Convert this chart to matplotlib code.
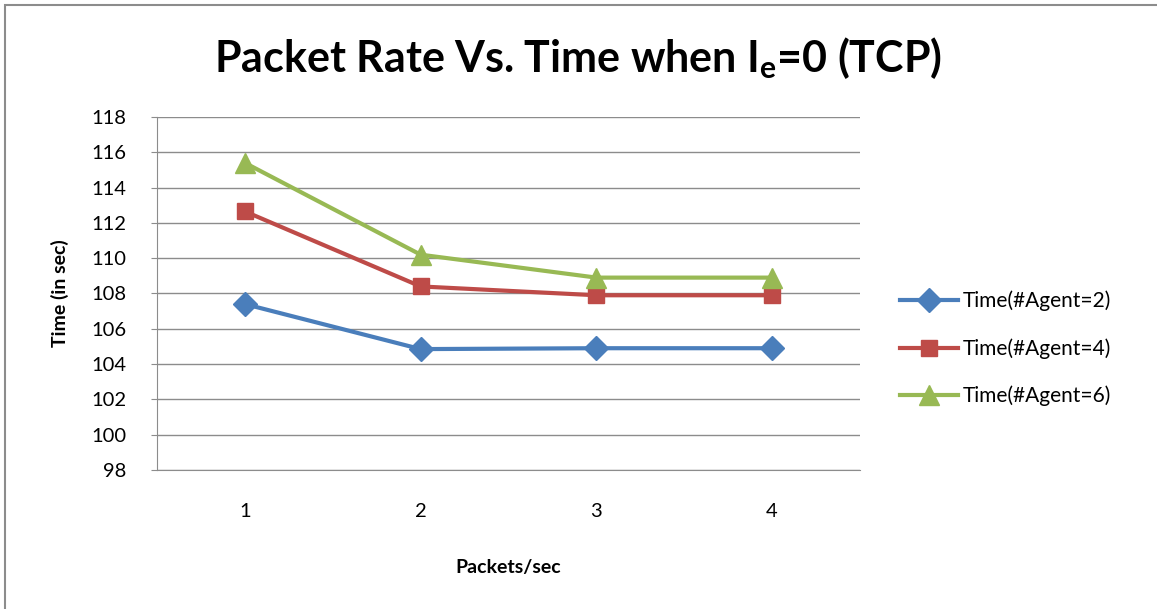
import matplotlib.pyplot as plt
from matplotlib.patches import Rectangle

plt.rcParams['font.family'] = ['Lato', 'DejaVu Sans']
plt.rcParams['mathtext.fontset'] = 'custom'
plt.rcParams['mathtext.rm'] = 'Lato:bold'

packets = [1, 2, 3, 4]
agent2 = [107.4, 104.85, 104.9, 104.9]
agent4 = [112.65, 108.4, 107.9, 107.9]
agent6 = [115.4, 110.2, 108.9, 108.9]
y_ticks = list(range(98, 119, 2))

fig = plt.figure(figsize=(11.57, 6.09), dpi=100)
ax = fig.add_axes([157 / 1157, 1 - 470 / 609, 703 / 1157, 353 / 609])

ax.plot(packets, agent2, color='#4A7EBB', lw=3, marker='D', ms=12, label='Time(#Agent=2)')
ax.plot(packets, agent4, color='#BE4B48', lw=3, marker='s', ms=12, label='Time(#Agent=4)')
ax.plot(packets, agent6, color='#98B954', lw=3, marker='^', ms=14, label='Time(#Agent=6)')

ax.set_xlim(0.5, 4.5)
ax.set_ylim(98, 118)
ax.set_yticks(y_ticks)
ax.set_xticks(packets)
ax.grid(axis='y', color='#8C8C8C', lw=1)
ax.set_axisbelow(True)
for s in ['top', 'right']:
    ax.spines[s].set_visible(False)
for s in ['left', 'bottom']:
    ax.spines[s].set_color('#8C8C8C')
ax.tick_params(axis='y', length=4, color='#8C8C8C', labelsize=14.5, pad=18)
ax.tick_params(axis='x', length=0, labelsize=14.5, pad=24)

ax.set_ylabel('Time (in sec)', fontsize=14, fontweight='bold', labelpad=16)
ax.set_xlabel('Packets/sec', fontsize=14, fontweight='bold', labelpad=28)

fig.text(0.5, 1 - 58 / 609, r'Packet Rate Vs. Time when I$_\mathrm{e}$=0 (TCP)',
         ha='center', va='center', fontsize=31, fontweight='bold')

ax.legend(loc='center left', bbox_to_anchor=(1.03, 0.5 - 55 / 353), frameon=False,
          fontsize=15, handlelength=2.8, labelspacing=1.3, handletextpad=0.2)

fig.patches.append(Rectangle((5 / 1157, -0.1), 1.2, 1 - 5 / 609 + 0.1, transform=fig.transFigure,
                             fill=False, edgecolor='#8C8C8C', lw=1.5))

fig.savefig('out.png', dpi=100)
